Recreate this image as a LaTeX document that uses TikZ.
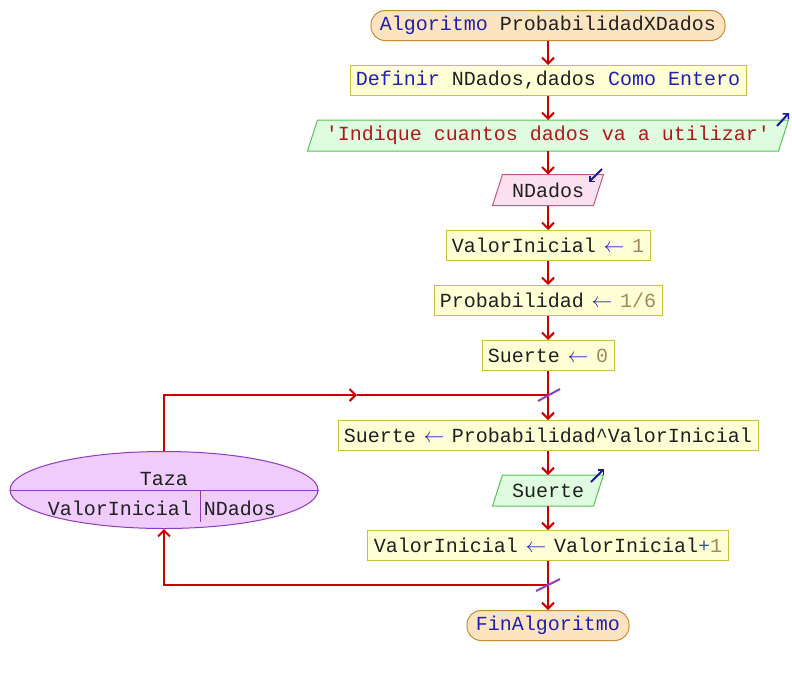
\documentclass[tikz,border=0pt]{standalone}
\usepackage{fontspec}
\newfontfamily\codefont{Liberation Mono}
\usetikzlibrary{arrows.meta,shapes.geometric,backgrounds,calc}
\definecolor{flowC}{HTML}{CC0000}
\definecolor{termF}{HTML}{FDE4C0}
\definecolor{termB}{HTML}{C88A38}
\definecolor{procF}{HTML}{FFFFD6}
\definecolor{procB}{HTML}{C8C040}
\definecolor{escF}{HTML}{E0FCE0}
\definecolor{escB}{HTML}{58C058}
\definecolor{leeF}{HTML}{FCE0F0}
\definecolor{leeB}{HTML}{C05888}
\definecolor{ellF}{HTML}{F0CCFC}
\definecolor{ellB}{HTML}{9038C0}
\definecolor{slashC}{HTML}{8A40C8}
\definecolor{iconC}{HTML}{1818A0}
\definecolor{kwC}{HTML}{2020B0}
\definecolor{idC}{HTML}{202020}
\definecolor{strC}{HTML}{B01818}
\definecolor{numC}{HTML}{A08858}
\definecolor{opC}{HTML}{2020C8}
\definecolor{plusC}{HTML}{406080}
\newcommand\cKw[1]{\textcolor{kwC}{#1}}
\newcommand\cId[1]{\textcolor{idC}{#1}}
\newcommand\cStr[1]{\textcolor{strC}{#1}}
\newcommand\cNum[1]{\textcolor{numC}{#1}}
\newcommand\cAs{\makebox[12pt][c]{\textcolor{opC}{$\leftarrow$}}}
\begin{document}
\begin{tikzpicture}[x=1pt,y=-1pt,
  every node/.style={font=\codefont\fontsize{20}{24}\selectfont, text=idC, inner sep=0pt},
  base/.style={line width=1pt, minimum height=30pt},
  term/.style={base, draw=termB, fill=termF, rounded corners=14pt},
  proc/.style={base, draw=procB, fill=procF},
  io/.style={base},
  flow/.style={draw=flowC, line width=2pt, -{Straight Barb[length=6pt,width=12pt,line width=2pt]}},
  plain/.style={draw=flowC, line width=2pt},
  slash/.style={draw=slashC, line width=2pt},
  icon/.style={draw=iconC, line width=2pt, -{Straight Barb[length=4pt,width=8pt,line width=1.5pt]}}
]
\useasboundingbox (0,0) rectangle (792,675);

\node[term, minimum width=354pt] (start) at (548,25.5) {\cKw{Algoritmo} ProbabilidadXDados};
\node[proc, minimum width=396pt] (def) at (548,80.5) {\cKw{Definir} NDados,dados \cKw{Como Entero}};
\node[io, minimum width=470pt] (esc1) at (548,135.5) {\cStr{'Indique cuantos dados va a utilizar'}};
\node[io, minimum width=100pt] (lee) at (548,190) {NDados};
\node[proc, minimum width=204pt] (vi) at (548,245.5) {ValorInicial \cAs{} \cNum{1}};
\node[proc, minimum width=228pt] (prob) at (548,300.5) {Probabilidad \cAs{} \cNum{1/6}};
\node[proc, minimum width=132pt] (s0) at (548,355.5) {Suerte \cAs{} \cNum{0}};
\node[proc, minimum width=420pt] (sp) at (548,435.5) {Suerte \cAs{} Probabilidad\textasciicircum ValorInicial};
\node[io, minimum width=100pt] (esc2) at (548,490.5) {Suerte};
\node[proc, minimum width=361pt] (vinc) at (548,545.5) {ValorInicial \cAs{} ValorInicial\textcolor{plusC}{+}\cNum{1}};
\node[term, minimum width=162pt] (fin) at (548,625.5) {\cKw{FinAlgoritmo}};

\begin{scope}[on background layer]
  \draw[escB, fill=escF, line width=1pt] ($(esc1.south west)+(-5,0)$) -- ($(esc1.north west)+(5,0)$) -- ($(esc1.north east)+(5,0)$) -- ($(esc1.south east)+(-5,0)$) -- cycle;
  \draw[leeB, fill=leeF, line width=1pt] ($(lee.south west)+(-5,0)$) -- ($(lee.north west)+(5,0)$) -- ($(lee.north east)+(5,0)$) -- ($(lee.south east)+(-5,0)$) -- cycle;
  \draw[escB, fill=escF, line width=1pt] ($(esc2.south west)+(-5,0)$) -- ($(esc2.north west)+(5,0)$) -- ($(esc2.north east)+(5,0)$) -- ($(esc2.south east)+(-5,0)$) -- cycle;
\end{scope}

% loop node
\node[ellipse, draw=ellB, fill=ellF, line width=1pt, minimum width=308pt, minimum height=77pt] (ell) at (164,490) {};
\draw[ellB, line width=1pt] (ell.west) -- (ell.east);
\draw[ellB, line width=1pt] (200,490) -- (200,522);
\node (lvar) at (164,479) {Taza};
\node (lini) at (120,508.5) {ValorInicial};
\node (lfin) at (240,508.5) {NDados};

% junctions
\coordinate (j1) at (548,395);
\coordinate (m1) at (357,395);
\coordinate (j2) at (548,585);

% main flow
\draw[flow] (start.south) -- (def.north);
\draw[flow] (def.south) -- (esc1.north);
\draw[flow] (esc1.south) -- (lee.north);
\draw[flow] (lee.south) -- (vi.north);
\draw[flow] (vi.south) -- (prob.north);
\draw[flow] (prob.south) -- (s0.north);
\draw[flow] (s0.south) -- (sp.north);
\draw[flow] (sp.south) -- (esc2.north);
\draw[flow] (esc2.south) -- (vinc.north);
\draw[flow] (vinc.south) -- (fin.north);

% loop
\draw[flow] (ell.north) |- (m1);
\draw[plain] (m1) -- (j1);
\draw[flow] (j2) -| (ell.south);

% slashes
\draw[slash] (538,401) -- (560,389);
\draw[slash] (536,591) -- (560,579);

% io icons
\coordinate (i1a) at (777,126);
\coordinate (i1b) at (789,113);
\draw[icon] (i1a) -- (i1b);
\coordinate (i2a) at (602,169);
\coordinate (i2b) at (589,182);
\draw[icon] (i2a) -- (i2b);
\coordinate (i3a) at (591,482);
\coordinate (i3b) at (604,469);
\draw[icon] (i3a) -- (i3b);
\end{tikzpicture}
\end{document}
